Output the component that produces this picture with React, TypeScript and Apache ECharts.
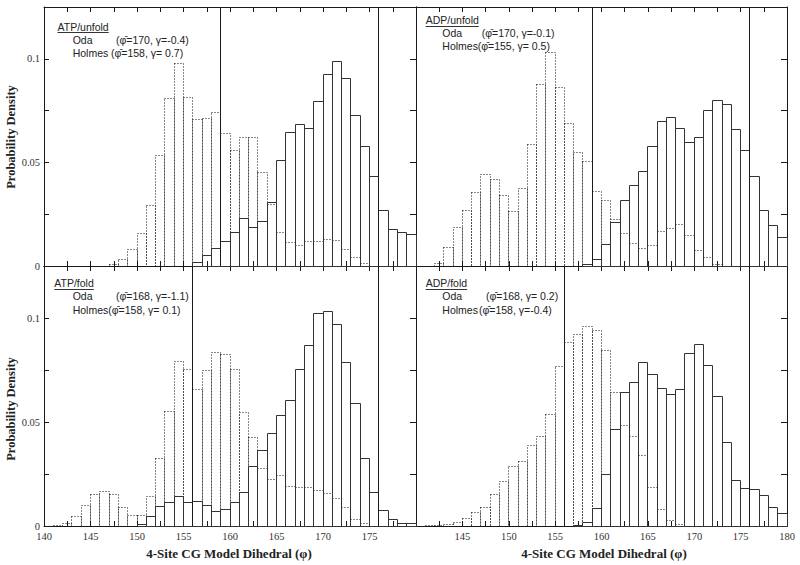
import React, { useEffect, useRef } from "react";
import * as echarts from "echarts";

// ---------- data ----------
const BIN_STARTS = [
  140, 141, 142, 143, 144, 145, 146, 147, 148, 149,
  150, 151, 152, 153, 154, 155, 156, 157, 158, 159,
  160, 161, 162, 163, 164, 165, 166, 167, 168, 169,
  170, 171, 172, 173, 174, 175, 176, 177, 178, 179,
];
const BIN_WIDTH = 1;

// ATP/unfold
const atpUnfoldOda = [
  0, 0, 0, 0, 0, 0, 0, 0, 0, 0,
  0, 0, 0, 0, 0, 0, 0.0019, 0.005, 0.0083, 0.012,
  0.0162, 0.0229, 0.0186, 0.0213, 0.0306, 0.051, 0.0643, 0.0683, 0.0662, 0.0795,
  0.0926, 0.0989, 0.0904, 0.0724, 0.0575, 0.043, 0.0268, 0.0178, 0.0162, 0.0151,
];
const atpUnfoldHolmes = [
  0, 0, 0, 0, 0, 0, 0, 0.0008, 0.0032, 0.0082,
  0.0157, 0.0293, 0.0534, 0.081, 0.0975, 0.0811, 0.0708, 0.071, 0.0739, 0.0641,
  0.0556, 0.0618, 0.0618, 0.0452, 0.0295, 0.0161, 0.0115, 0.0098, 0.012, 0.0116,
  0.0128, 0.0122, 0.008, 0.004, 0.001, 0, 0, 0, 0, 0,
];

// ADP/unfold
const adpUnfoldOda = [
  0, 0, 0, 0, 0, 0, 0, 0, 0, 0,
  0, 0, 0, 0, 0, 0, 0, 0, 0.0008, 0.0029,
  0.0106, 0.0212, 0.0314, 0.039, 0.0454, 0.0577, 0.0699, 0.0718, 0.0662, 0.0595,
  0.0622, 0.075, 0.08, 0.078, 0.066, 0.0556, 0.0433, 0.0269, 0.0196, 0.0136,
];
const adpUnfoldHolmes = [
  0, 0, 0.0013, 0.0088, 0.0184, 0.0269, 0.0354, 0.0442, 0.0418, 0.034,
  0.0264, 0.0373, 0.0585, 0.0877, 0.103, 0.0862, 0.0689, 0.0546, 0.0505, 0.036,
  0.0315, 0.0224, 0.0158, 0.011, 0.0085, 0.0098, 0.0167, 0.0181, 0.02, 0.0146,
  0.0076, 0.0041, 0.0008, 0, 0, 0, 0, 0, 0, 0,
];

// ATP/fold
const atpFoldOda = [
  0, 0, 0, 0, 0, 0, 0, 0, 0, 0,
  0.0008, 0.0047, 0.0096, 0.0113, 0.0142, 0.0114, 0.0119, 0.0099, 0.0072, 0.008,
  0.0114, 0.0162, 0.0284, 0.0365, 0.0447, 0.0532, 0.0601, 0.0753, 0.087, 0.1022,
  0.1032, 0.0971, 0.0785, 0.059, 0.0325, 0.0163, 0.0075, 0.0032, 0.001, 0.001,
];
const atpFoldHolmes = [
  0, 0.0003, 0.0012, 0.0046, 0.0099, 0.015, 0.0168, 0.0153, 0.0091, 0.005,
  0.005, 0.0142, 0.0325, 0.055, 0.079, 0.0753, 0.0657, 0.075, 0.0835, 0.0825,
  0.0753, 0.0545, 0.0425, 0.0277, 0.0224, 0.0245, 0.0192, 0.0184, 0.0184, 0.017,
  0.0157, 0.013, 0.009, 0.0029, 0.001, 0, 0, 0, 0, 0,
];

// ADP/fold
const adpFoldOda = [
  0, 0, 0, 0, 0, 0, 0, 0, 0, 0,
  0, 0, 0, 0, 0, 0, 0, 0.0003, 0.0015, 0.0084,
  0.0248, 0.0462, 0.0644, 0.0692, 0.0788, 0.073, 0.0659, 0.0634, 0.0655, 0.0829,
  0.0873, 0.0771, 0.0623, 0.0401, 0.0219, 0.0181, 0.0176, 0.0145, 0.009, 0.0061,
];
const adpFoldHolmes = [
  0, 0.0003, 0.0004, 0.0006, 0.0015, 0.0034, 0.0063, 0.009, 0.0151, 0.0216,
  0.0285, 0.031, 0.0387, 0.0428, 0.0537, 0.0766, 0.088, 0.092, 0.0958, 0.094,
  0.0846, 0.064, 0.0484, 0.043, 0.0337, 0.0187, 0.0081, 0.0025, 0.0005, 0,
  0, 0, 0, 0, 0, 0, 0, 0, 0, 0,
];

const PANEL_TITLES = ["ATP/unfold", "ADP/unfold", "ATP/fold", "ADP/fold"];
const ODA_NAME = "Oda";
const HOLMES_NAME = "Holmes";
const ODA_STATS = [
  "(\u03c6\u0304=170, \u03b3=-0.4)",
  "(\u03c6\u0304=170, \u03b3=-0.1)",
  "(\u03c6\u0304=168, \u03b3=-1.1)",
  "(\u03c6\u0304=168, \u03b3= 0.2)",
];
const HOLMES_STATS = [
  "(\u03c6\u0304=158, \u03b3= 0.7)",
  "(\u03c6\u0304=155, \u03b3= 0.5)",
  "(\u03c6\u0304=158, \u03b3= 0.1)",
  "(\u03c6\u0304=158, \u03b3=-0.4)",
];
const REF_LINES = [
  [159, 176],
  [159, 176],
  [156, 176],
  [156, 176],
];

const X_MIN = 140;
const X_MAX = 180;
const X_TICK_STEP = 2.5;
const X_LABELS_LEFT = [140, 145, 150, 155, 160, 165, 170, 175];
const X_LABELS_RIGHT = [145, 150, 155, 160, 165, 170, 175, 180];
const Y_MIN = 0;
const Y_MAX = 0.125;
const Y_TICK_STEP = 0.025;
const Y_LABELS = [0, 0.05, 0.1];
const Y_TITLE = "Probability Density";
const X_TITLE = "4-Site CG Model Dihedral (\u03c6)";

const ODA_SERIES = [atpUnfoldOda, adpUnfoldOda, atpFoldOda, adpFoldOda];
const HOLMES_SERIES = [atpUnfoldHolmes, adpUnfoldHolmes, atpFoldHolmes, adpFoldHolmes];

// ---------- layout ----------
const GRIDS = [
  { left: 44, top: 7, width: 372, height: 259 },
  { left: 416, top: 7, width: 371, height: 259 },
  { left: 44, top: 266, width: 372, height: 260 },
  { left: 416, top: 266, width: 371, height: 260 },
];
const LEGEND_POS = [
  { tx: 57.5, ty: 26.5, nx: 72.7, oy: 39.5, hy: 52.5, osx: 116, hsx: 111 },
  { tx: 425.7, ty: 20, nx: 442.3, oy: 32.5, hy: 45.7, osx: 481.7, hsx: 477.7 },
  { tx: 54.3, ty: 283.3, nx: 72.7, oy: 295.5, hy: 310, osx: 116, hsx: 108.3 },
  { tx: 425.7, ty: 283.3, nx: 442.3, oy: 295.5, hy: 309.5, osx: 486, hsx: 479 },
];

const LINE = "#1a1a1a";
const SERIF = "Liberation Serif";
const SANS = "Liberation Sans";

function near(list: number[], v: number) {
  return list.some((l) => Math.abs(l - v) < 1e-6);
}
const crisp = (v: number) => Math.round(v - 0.5) + 0.5;

export default function App() {
  const ref = useRef<HTMLDivElement>(null);

  useEffect(() => {
    if (!ref.current) return;
    const chart = echarts.init(ref.current, undefined, { renderer: "svg" });

    const canvas = document.createElement("canvas");
    const ctx = canvas.getContext("2d");
    const LEG_SIZE = 10.5;
    const measure = (t: string) => {
      if (!ctx) return t.length * 5.3;
      ctx.font = `${LEG_SIZE}px "${SANS}"`;
      return ctx.measureText(t).width;
    };

    const xAxis: any[] = [];
    const yAxis: any[] = [];
    const series: any[] = [];
    const graphic: any[] = [];

    for (let i = 0; i < 4; i++) {
      const isBottom = i >= 2;
      const isLeft = i % 2 === 0;
      const labelList = isLeft ? X_LABELS_LEFT : X_LABELS_RIGHT;
      xAxis.push({
        type: "value",
        gridIndex: i,
        position: "bottom",
        min: X_MIN,
        max: X_MAX,
        interval: X_TICK_STEP,
        axisLine: { show: true, onZero: false, lineStyle: { color: LINE, width: 1 } },
        axisTick: { show: true, inside: true, length: 5, lineStyle: { color: LINE } },
        axisLabel: {
          show: isBottom,
          margin: 5,
          fontFamily: SERIF,
          fontSize: 10.5,
          color: "#333",
          formatter: (v: number) => (near(labelList, v) ? String(Math.round(v)) : ""),
        },
        splitLine: { show: false },
      });
    }
    for (let i = 0; i < 4; i++) {
      xAxis.push({
        type: "value",
        gridIndex: i,
        position: "top",
        min: X_MIN,
        max: X_MAX,
        interval: X_TICK_STEP,
        axisLine: { show: true, onZero: false, lineStyle: { color: LINE, width: 1 } },
        axisTick: { show: true, inside: true, length: 5, lineStyle: { color: LINE } },
        axisLabel: { show: false },
        splitLine: { show: false },
      });
    }
    for (let i = 0; i < 4; i++) {
      const isLeft = i % 2 === 0;
      yAxis.push({
        type: "value",
        gridIndex: i,
        position: "left",
        min: Y_MIN,
        max: Y_MAX,
        interval: Y_TICK_STEP,
        axisLine: { show: true, onZero: false, lineStyle: { color: LINE, width: 1 } },
        axisTick: { show: isLeft, inside: true, length: 5, lineStyle: { color: LINE } },
        axisLabel: {
          show: isLeft,
          margin: 4,
          fontFamily: SERIF,
          fontSize: 10.5,
          color: "#333",
          formatter: (v: number) => (near(Y_LABELS, v) ? String(parseFloat(v.toFixed(3))) : ""),
        },
        splitLine: { show: false },
      });
    }
    for (let i = 0; i < 4; i++) {
      yAxis.push({
        type: "value",
        gridIndex: i,
        position: "right",
        min: Y_MIN,
        max: Y_MAX,
        interval: Y_TICK_STEP,
        axisLine: { show: true, onZero: false, lineStyle: { color: LINE, width: 1 } },
        axisTick: { show: true, inside: true, length: 6, lineStyle: { color: LINE } },
        axisLabel: { show: false },
        splitLine: { show: false },
      });
    }

    const histRender = (dashed: boolean) => (params: any, api: any) => {
      const x = api.value(0);
      const v = api.value(1);
      const a = api.coord([x, 0]);
      const b = api.coord([x + BIN_WIDTH, v]);
      const x0 = crisp(a[0]);
      const x1 = crisp(b[0]);
      const y0 = crisp(a[1]);
      const y1 = Math.min(crisp(b[1]), y0 - 1);
      return {
        type: "rect",
        silent: true,
        shape: { x: x0, y: y1, width: x1 - x0, height: y0 - y1 },
        style: {
          fill: "none",
          stroke: dashed ? "#111" : "#333",
          lineWidth: 1,
          lineDash: dashed ? [1, 2] : null,
        },
      };
    };

    const textStyle = (text: string) => ({
      text,
      fontSize: LEG_SIZE,
      fontFamily: SANS,
      fill: "#222",
      align: "left",
      verticalAlign: "middle",
    });

    for (let i = 0; i < 4; i++) {
      const holmesData = BIN_STARTS.map((b, j) => [b, HOLMES_SERIES[i][j]]).filter((d) => d[1] > 0);
      const odaData = BIN_STARTS.map((b, j) => [b, ODA_SERIES[i][j]]).filter((d) => d[1] > 0);
      series.push({
        type: "custom",
        name: HOLMES_NAME,
        xAxisIndex: i,
        yAxisIndex: i,
        renderItem: histRender(true),
        encode: { x: 0, y: 1 },
        data: holmesData,
        silent: true,
      });
      series.push({
        type: "custom",
        name: ODA_NAME,
        xAxisIndex: i,
        yAxisIndex: i,
        renderItem: histRender(false),
        encode: { x: 0, y: 1 },
        data: odaData,
        silent: true,
      });
      series.push({
        type: "custom",
        xAxisIndex: i,
        yAxisIndex: i,
        renderItem: (params: any, api: any) => {
          const x = api.value(0);
          const a = api.coord([x, Y_MIN]);
          const b = api.coord([x, Y_MAX]);
          const cx = crisp(a[0]);
          return {
            type: "line",
            silent: true,
            shape: { x1: cx, y1: a[1], x2: cx, y2: b[1] },
            style: { stroke: LINE, lineWidth: 1 },
          };
        },
        encode: { x: 0, y: 1 },
        data: REF_LINES[i].map((x) => [x, Y_MAX]),
        silent: true,
      });

      // legend texts
      const p = LEGEND_POS[i];
      const w = measure(PANEL_TITLES[i]);
      graphic.push({ type: "text", x: p.tx, y: p.ty, style: textStyle(PANEL_TITLES[i]) });
      graphic.push({
        type: "line",
        shape: { x1: p.tx, y1: crisp(p.ty + 6), x2: p.tx + w, y2: crisp(p.ty + 6) },
        style: { stroke: "#333", lineWidth: 1 },
      });
      graphic.push({ type: "text", x: p.nx, y: p.oy, style: textStyle(ODA_NAME) });
      graphic.push({ type: "text", x: p.osx, y: p.oy, style: textStyle(ODA_STATS[i]) });
      graphic.push({ type: "text", x: p.nx, y: p.hy, style: textStyle(HOLMES_NAME) });
      graphic.push({ type: "text", x: p.hsx, y: p.hy, style: textStyle(HOLMES_STATS[i]) });
    }

    const titleStyle = (text: string, size: number) => ({
      text,
      fontSize: size,
      fontFamily: SERIF,
      fontWeight: "bold",
      fill: "#222",
      align: "center",
      verticalAlign: "middle",
    });
    graphic.push({ type: "text", x: 11, y: 137, rotation: Math.PI / 2, style: titleStyle(Y_TITLE, 12.5) });
    graphic.push({ type: "text", x: 11, y: 409, rotation: Math.PI / 2, style: titleStyle(Y_TITLE, 12.5) });
    graphic.push({ type: "text", x: 229, y: 553, style: titleStyle(X_TITLE, 13) });
    graphic.push({ type: "text", x: 604, y: 553, style: titleStyle(X_TITLE, 13) });

    chart.setOption({
      animation: false,
      backgroundColor: "#ffffff",
      grid: GRIDS.map((g) => ({ ...g, containLabel: false })),
      xAxis,
      yAxis,
      series,
      graphic,
    });

    return () => {
      chart.dispose();
    };
  }, []);

  return (
    <div
      ref={ref}
      style={{ position: "fixed", left: 0, top: 0, width: 800, height: 565, background: "#fff" }}
    />
  );
}
